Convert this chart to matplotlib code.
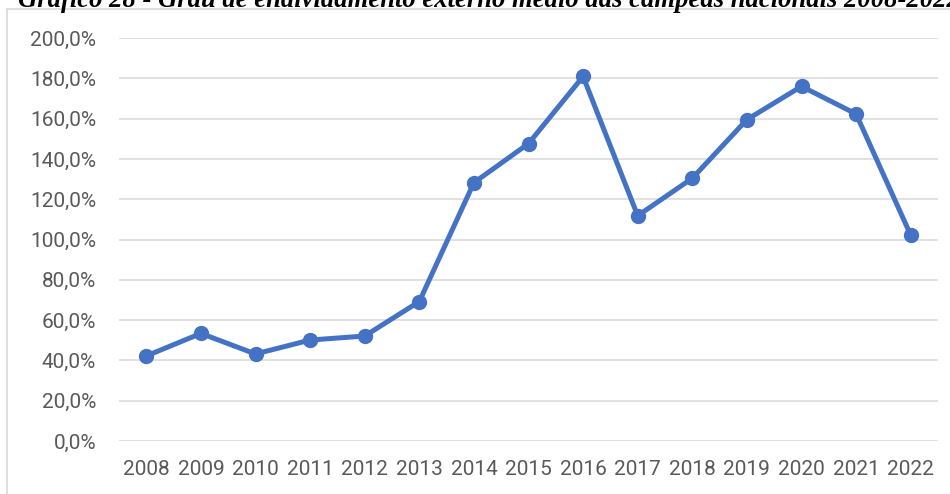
import numpy as np
import matplotlib.pyplot as plt
from matplotlib.lines import Line2D

plt.rcParams['font.family'] = ['Roboto', 'DejaVu Sans']

anos = ['2008', '2009', '2010', '2011', '2012', '2013', '2014', '2015',
        '2016', '2017', '2018', '2019', '2020', '2021', '2022']
endividamento = [42.2, 53.4, 43.2, 50.1, 52.1, 69.2, 128.2, 147.6,
                 180.9, 111.8, 130.4, 159.5, 176.0, 162.3, 102.2]
titulo = 'Gráfico 28 - Grau de endividamento externo médio das campeãs nacionais 2008-2022'

fig = plt.figure(figsize=(9.5, 4.94), dpi=100)
ax = fig.add_axes([119/950, 1-441/494, (938-119)/950, (441-38)/494])

x = np.arange(len(anos))
ax.plot(x, endividamento, color='#4472C4', lw=3.6, marker='o', ms=10,
        solid_joinstyle='round', solid_capstyle='round', zorder=3)

ax.set_xlim(-0.5, len(anos)-0.5)
ax.set_ylim(0, 200)
ax.set_yticks(np.arange(0, 201, 20))
ax.set_yticklabels([f'{v:.1f}%'.replace('.', ',') for v in range(0, 201, 20)])
ax.set_xticks(x)
ax.set_xticklabels(anos)
ax.grid(axis='y', color='#D9D9D9', lw=1.1)
ax.set_axisbelow(True)
for s in ax.spines.values():
    s.set_visible(False)
ax.tick_params(length=0, labelsize=15, labelcolor='#595959')
ax.tick_params(axis='y', pad=16.5)
ax.tick_params(axis='x', pad=14)

# moldura do gráfico
fig.add_artist(Line2D([7/950, 7/950], [0, 1-9/494], transform=fig.transFigure,
                      color='#D9D9D9', lw=1.2))
fig.add_artist(Line2D([7/950, 1], [1-9/494, 1-9/494], transform=fig.transFigure,
                      color='#D9D9D9', lw=1.2))

fig.text(18/950, 1-7/494, titulo, family='Liberation Serif', weight='bold',
         style='italic', fontsize=19.2, va='baseline', ha='left')

fig.savefig('out.png', dpi=100)
